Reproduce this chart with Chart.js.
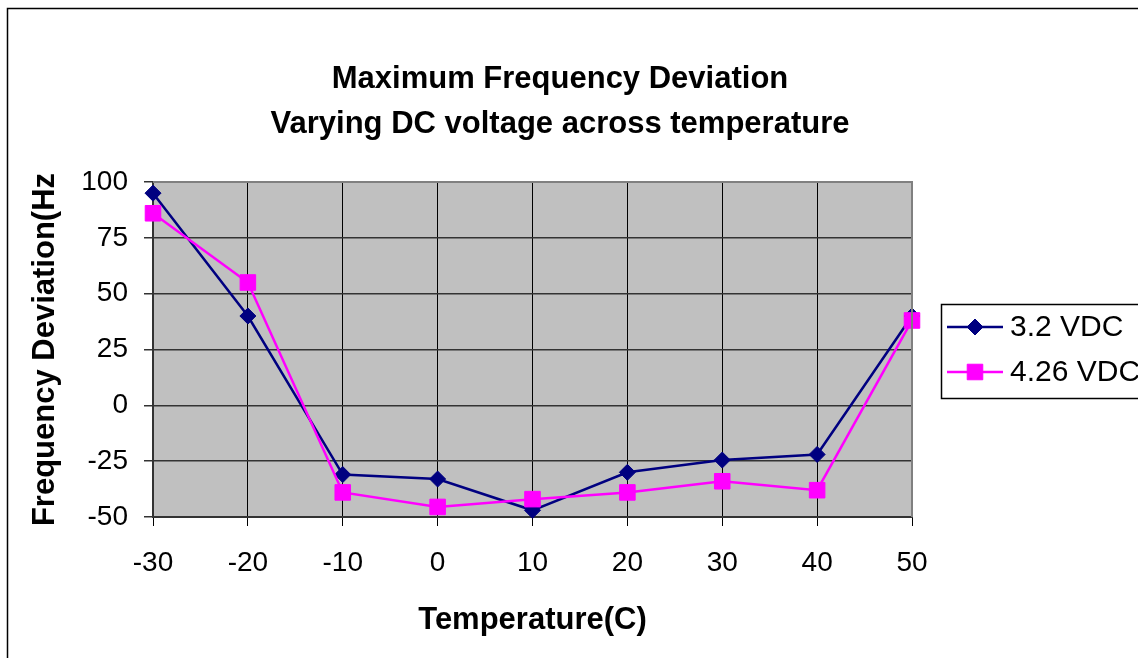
<!DOCTYPE html>
<html>
<head>
<meta charset="utf-8">
<script src="https://cdn.jsdelivr.net/npm/chart.js@4/dist/chart.umd.min.js"></script>
<style>
  html, body { margin: 0; padding: 0; background: #fff; }
  #wrap { width: 1138px; height: 658px; position: relative; }
</style>
</head>
<body>
<div id="wrap"><canvas id="c" width="1138" height="658"></canvas></div>
<script>
// ---- Data ----
const temperatures = [-30, -20, -10, 0, 10, 20, 30, 40, 50];
const series32 = [95, 40, -31, -33, -47, -30, -24.5, -22, 40];
const series426 = [86, 55, -39, -45.5, -42, -39, -34, -38, 38];
const seriesLabels = ['3.2 VDC', '4.26 VDC'];
const titleLines = ['Maximum Frequency Deviation', 'Varying DC voltage across temperature'];
const xTitle = 'Temperature(C)';
const yTitle = 'Frequency Deviation(Hz';
const yTickValues = [-50, -25, 0, 25, 50, 75, 100];

const FONT = '"Liberation Sans", Arial, Helvetica, sans-serif';

const toPoints = (xs, ys) => xs.map((x, i) => ({ x: x, y: ys[i] }));

const decorPlugin = {
  id: 'decor',
  beforeDraw(chart) {
    const ctx = chart.ctx;
    const a = chart.chartArea;
    ctx.save();
    ctx.fillStyle = '#ffffff';
    ctx.fillRect(0, 0, chart.width, chart.height);
    ctx.fillStyle = '#C0C0C0';
    ctx.fillRect(a.left, a.top, a.right - a.left, a.bottom - a.top);
    // outer frame
    ctx.strokeStyle = '#000';
    ctx.lineWidth = 1.5;
    ctx.strokeRect(7.5, 8.5, 1300, 800);
    ctx.restore();
  },
  afterDraw(chart) {
    const ctx = chart.ctx;
    const a = chart.chartArea;
    ctx.save();
    // plot area top/right border (gray)
    ctx.strokeStyle = '#808080';
    ctx.lineWidth = 2;
    ctx.beginPath();
    ctx.moveTo(a.left, a.top);
    ctx.lineTo(a.right, a.top);
    ctx.lineTo(a.right, a.bottom);
    ctx.stroke();

    // title
    ctx.fillStyle = '#000';
    ctx.textAlign = 'center';
    ctx.textBaseline = 'middle';
    ctx.font = 'bold 31px ' + FONT;
    titleLines.forEach((t, i) => ctx.fillText(t, 560, 79 + i * 45));

    // legend
    const lx = 941, ly = 304, lw = 300, lh = 94;
    ctx.fillStyle = '#fff';
    ctx.fillRect(lx, ly, lw, lh);
    ctx.strokeStyle = '#000';
    ctx.lineWidth = 1.5;
    ctx.strokeRect(lx + 0.5, ly + 0.5, lw, lh);
    chart.data.datasets.forEach((ds, i) => {
      const y = 327 + i * 45;
      ctx.strokeStyle = ds.borderColor;
      ctx.lineWidth = ds.borderWidth;
      ctx.beginPath();
      ctx.moveTo(947, y);
      ctx.lineTo(1003, y);
      ctx.stroke();
      ctx.fillStyle = ds.pointBackgroundColor;
      ctx.strokeStyle = ds.pointBorderColor;
      ctx.lineWidth = 1;
      Chart.helpers.drawPoint(ctx, {
        pointStyle: ds.pointStyle,
        radius: ds.pointRadius,
        rotation: 0,
        borderWidth: 1
      }, 975, y);
      ctx.fillStyle = '#000';
      ctx.textAlign = 'left';
      ctx.textBaseline = 'middle';
      ctx.font = '30px ' + FONT;
      ctx.fillText(ds.label, 1010, y + 1);
    });
    ctx.restore();
  }
};

const ctx = document.getElementById('c').getContext('2d');
new Chart(ctx, {
  type: 'line',
  data: {
    datasets: [
      {
        label: seriesLabels[0],
        data: toPoints(temperatures, series32),
        borderColor: '#000080',
        backgroundColor: '#000080',
        pointBackgroundColor: '#000080',
        pointBorderColor: '#000080',
        borderWidth: 2.5,
        pointStyle: 'rectRot',
        pointRadius: 8,
        pointBorderWidth: 1,
        tension: 0,
        clip: false,
        order: 1
      },
      {
        label: seriesLabels[1],
        data: toPoints(temperatures, series426),
        borderColor: '#FF00FF',
        backgroundColor: '#FF00FF',
        pointBackgroundColor: '#FF00FF',
        pointBorderColor: '#FF00FF',
        borderWidth: 2.5,
        pointStyle: 'rect',
        pointRadius: 11,
        pointBorderWidth: 1,
        tension: 0,
        clip: false,
        order: 0
      }
    ]
  },
  options: {
    responsive: false,
    animation: false,
    devicePixelRatio: 1,
    layout: { padding: { top: 182, right: 226, bottom: 0, left: 0 } },
    plugins: {
      legend: { display: false },
      title: { display: false },
      tooltip: { enabled: false }
    },
    scales: {
      x: {
        type: 'linear',
        position: 'bottom',
        min: -30,
        max: 50,
        afterFit(scale) { scale.height = 141; },
        ticks: {
          stepSize: 10,
          color: '#000',
          padding: 20,
          font: { family: FONT, size: 28 }
        },
        grid: { color: '#000', lineWidth: 1, tickLength: 9, drawTicks: true },
        border: { display: true, color: '#333', width: 2 },
        title: {
          display: true,
          text: xTitle,
          color: '#000',
          font: { family: FONT, size: 31, weight: 'bold', lineHeight: 1.2 },
          padding: { top: 0, bottom: 19 }
        }
      },
      y: {
        type: 'linear',
        min: -50,
        max: 100,
        afterFit(scale) { scale.width = 153; },
        afterBuildTicks(scale) { scale.ticks = yTickValues.map(v => ({ value: v })); },
        ticks: {
          color: '#000',
          padding: 16,
          font: { family: FONT, size: 28 }
        },
        grid: { color: '#333', lineWidth: 1.5, tickLength: 9, drawTicks: true },
        border: { display: true, color: '#333', width: 2 },
        title: {
          display: true,
          text: yTitle,
          color: '#000',
          font: { family: FONT, size: 31, weight: 'bold', lineHeight: 1.2 },
          padding: { top: 27, bottom: 0 }
        }
      }
    }
  },
  plugins: [decorPlugin]
});
</script>
</body>
</html>
